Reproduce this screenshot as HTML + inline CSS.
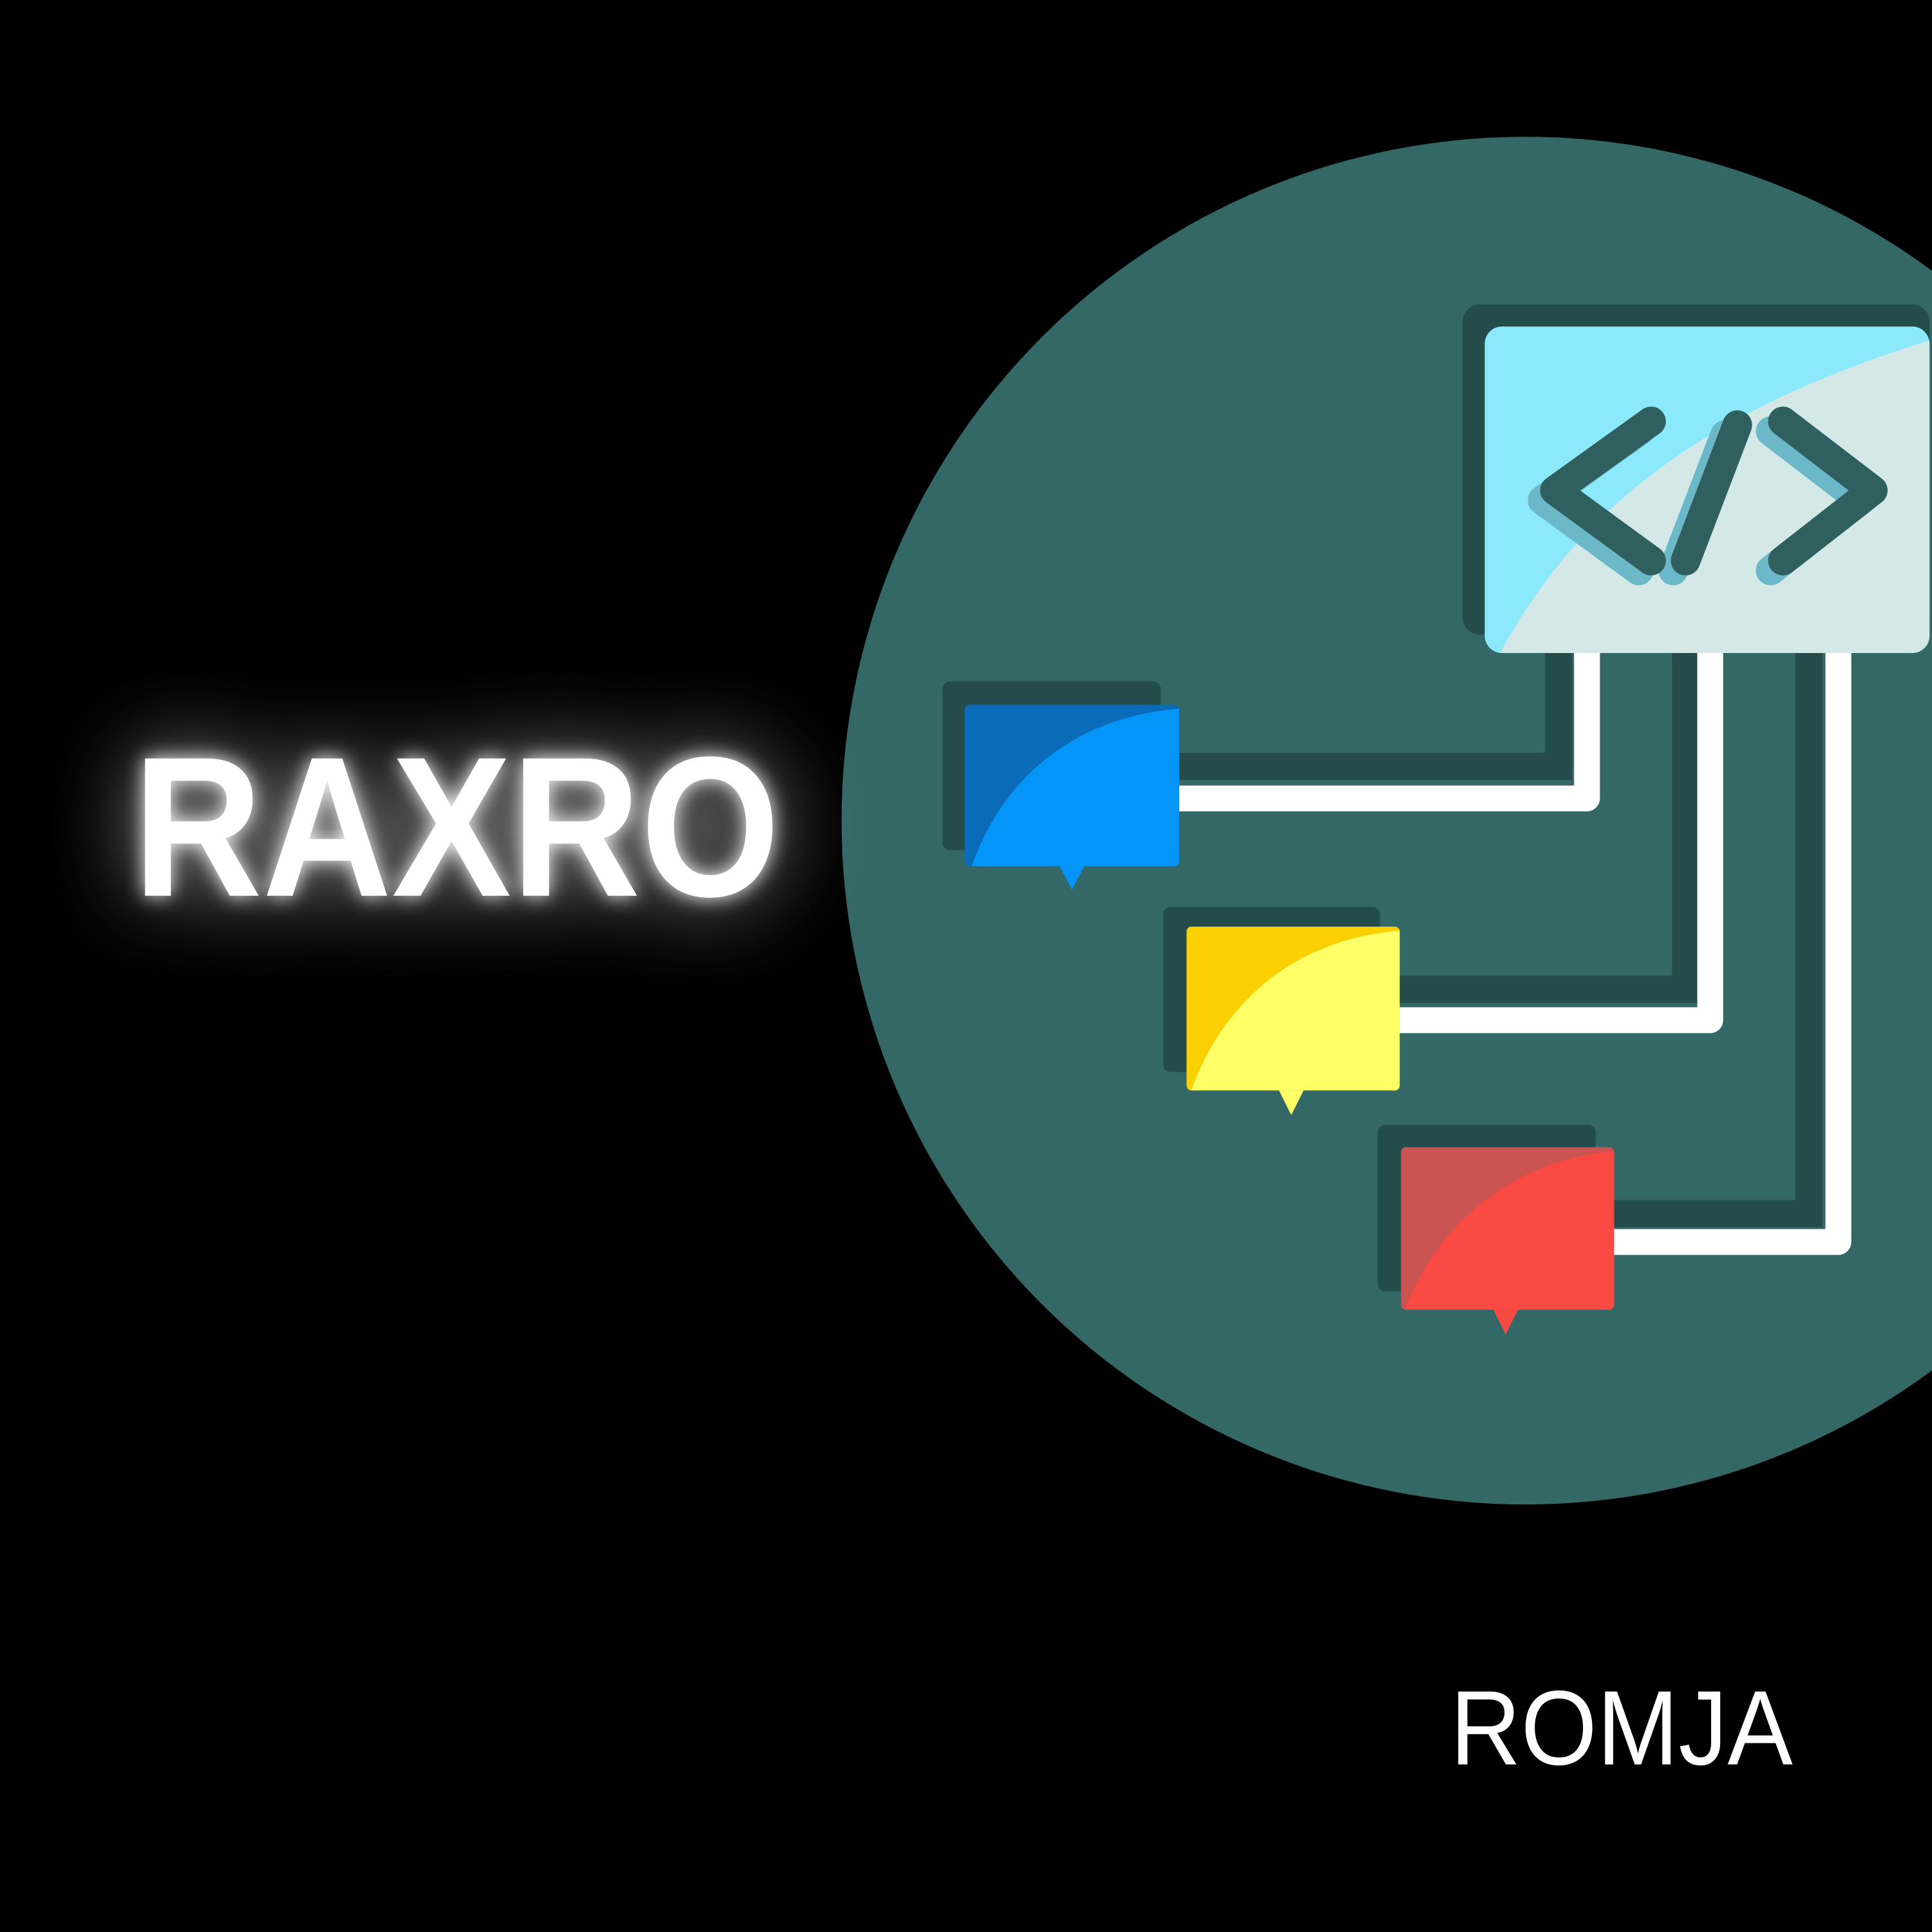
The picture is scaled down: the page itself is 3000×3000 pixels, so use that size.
<!DOCTYPE html>
<html><head><meta charset="utf-8"><style>
html,body{margin:0;padding:0;background:#000;}
svg{display:block;}
</style></head><body>
<svg width="3000" height="3000" viewBox="0 0 1568 1568" xmlns="http://www.w3.org/2000/svg">
<defs>
<filter id="glow" x="-30%" y="-80%" width="160%" height="260%">
<feGaussianBlur in="SourceGraphic" stdDeviation="35" result="b1"/>
<feGaussianBlur in="SourceGraphic" stdDeviation="8" result="b2"/>
<feComponentTransfer in="b1" result="b1d"><feFuncA type="linear" slope="0.8"/></feComponentTransfer>
<feMerge><feMergeNode in="b1d"/><feMergeNode in="b2"/><feMergeNode in="SourceGraphic"/></feMerge>
</filter>
<clipPath id="cb"><rect x="1205" y="265" width="361" height="265" rx="14"/></clipPath>
<clipPath id="c1"><rect x="783" y="572" width="174" height="131" rx="4"/></clipPath>
<clipPath id="c2"><rect x="963" y="752" width="173" height="133" rx="4"/></clipPath>
<clipPath id="c3"><rect x="1137" y="931" width="173" height="132" rx="4"/></clipPath>
</defs>
<rect width="1568" height="1568" fill="#000"/>
<circle cx="1238" cy="666" r="555" fill="#336866"/>

<g stroke="#244c4b" stroke-width="22" fill="none">
<polyline points="940,622 1265,622 1265,520"/>
<polyline points="1120,803 1368,803 1368,520"/>
<polyline points="1290,985 1468,985 1468,520"/>
</g>
<g stroke="#fff" stroke-width="21" fill="none" stroke-linejoin="round" stroke-linecap="round">
<polyline points="950,648 1288,648 1288,520"/>
<polyline points="1130,828 1388,828 1388,520"/>
<polyline points="1300,1008 1492,1008 1492,520"/>
</g>

<rect x="1187" y="247" width="379" height="268" rx="14" fill="#244c4b"/>
<g clip-path="url(#cb)">
<rect x="1205" y="265" width="380" height="265" fill="#8be9fb"/>
<path d="M1215,535 C1290,390 1420,320 1580,272 L1580,535 Z" fill="#d5e8e8"/>
</g>
<g stroke-width="24" stroke-linecap="round" stroke-linejoin="round" fill="none">
<g stroke="#6bb8c9" transform="translate(-10,8)">
<polyline points="1340,342 1262,398 1340,455"/>
<line x1="1410" y1="345" x2="1368" y2="455"/>
<polyline points="1447,342 1520,398 1447,455"/>
</g>
<g stroke="#2f5f5e">
<polyline points="1340,342 1262,398 1340,455"/>
<line x1="1410" y1="345" x2="1368" y2="455"/>
<polyline points="1447,342 1520,398 1447,455"/>
</g>
</g>

<rect x="765" y="553" width="177" height="137" rx="6" fill="#244c4b"/>
<polygon points="860,703 880,703 870,722" fill="#0594f7"/>
<g clip-path="url(#c1)"><rect x="783" y="572" width="174" height="131" fill="#0a6bb8"/>
<path d="M788,705 C815,625 880,580 960,575 L960,705 Z" fill="#0594f7"/></g>
<rect x="944" y="736" width="176" height="134" rx="6" fill="#244c4b"/>
<polygon points="1038,885 1058,885 1048,905" fill="#ffff66"/>
<g clip-path="url(#c2)"><rect x="963" y="752" width="173" height="133" fill="#fcd000"/>
<path d="M966,887 C995,805 1060,760 1140,755 L1140,887 Z" fill="#ffff66"/></g>
<rect x="1118" y="913" width="177" height="135" rx="6" fill="#244c4b"/>
<polygon points="1212,1063 1232,1063 1222,1083" fill="#f84a43"/>
<g clip-path="url(#c3)"><rect x="1137" y="931" width="173" height="132" fill="#c95452"/>
<path d="M1139,1065 C1170,985 1235,940 1313,934 L1313,1065 Z" fill="#f84a43"/></g>

<text x="108" y="727" font-family="Liberation Sans, sans-serif" font-weight="bold" font-size="162" fill="#fff" textLength="525" lengthAdjust="spacingAndGlyphs" filter="url(#glow)">RAXRO</text>
<text x="1177" y="1432" font-family="Liberation Sans, sans-serif" font-size="86" fill="#fff" textLength="278" lengthAdjust="spacingAndGlyphs">ROMJA</text>
</svg>
</body></html>
